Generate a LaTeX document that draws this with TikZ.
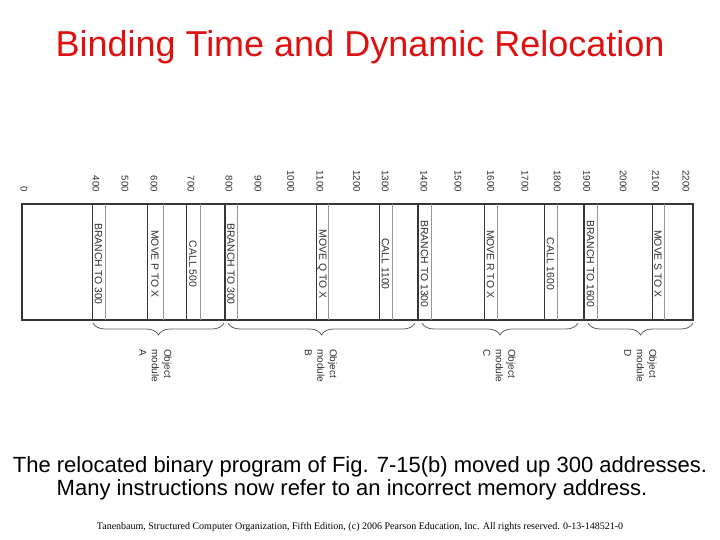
\documentclass[tikz,border=0pt]{standalone}
\usepackage{fontspec}
\setmainfont{Liberation Sans}
\newfontfamily\footfont{Liberation Serif}
\usetikzlibrary{decorations.pathreplacing}
\definecolor{titlered}{RGB}{222,16,16}
\definecolor{edgec}{RGB}{55,55,55}
\definecolor{lightc}{RGB}{150,150,150}
\definecolor{textc}{RGB}{45,45,45}
\begin{document}
\begin{tikzpicture}[x=1pt,y=-1pt,
  barbox/.style={draw=edgec, line width=1.3pt, inner sep=0pt, minimum width=671pt, minimum height=116pt},
  darkline/.style={draw=edgec, line width=1pt},
  lightline/.style={draw=lightc, line width=0.9pt},
  thickline/.style={draw=edgec, line width=2.2pt},
  addr/.style={rotate=-90, anchor=east, inner sep=0pt, text=textc, font=\fontsize{9.7}{11}\selectfont},
  instr/.style={rotate=-90, inner sep=0pt, text=textc, font=\fontsize{10.4}{12}\selectfont},
  modlbl/.style={rotate=-90, anchor=west, inner sep=0pt, align=left, text=textc, font=\fontsize{10}{12.5}\selectfont},
  brc/.style={draw=edgec!80, line width=0.8pt, decorate, decoration={brace, mirror, amplitude=12pt}},
  captxt/.style={anchor=base, inner sep=0pt, font=\fontsize{22}{24}\selectfont},
]
\useasboundingbox (0,0) rectangle (720,540);

% title
\node[anchor=base, inner sep=0pt, text=titlered, font=\fontsize{36}{40}\selectfont] (title) at (360,57) {Binding Time and Dynamic Relocation};

% memory bar
\node[barbox] (bar) at (357.5,262) {};

% instruction cells
\foreach \l/\r/\t/\n in {92/105/BRANCH TO 300/i1, 147/163/MOVE P TO X/i2, 186/200/CALL 500/i3, 225/237/BRANCH TO 300/i4, 316/328/MOVE Q TO X/i5, 379/392/CALL 1100/i6, 418/431/BRANCH TO 1300/i7, 484/497/MOVE R TO X/i8, 544/557/CALL 1600/i9, 584/597/BRANCH TO 1600/i10, 652/664/MOVE S TO X/i11} {
  \draw[darkline] (\l,204) -- (\l,320);
  \draw[lightline] (\r,204) -- (\r,320);
  \node[instr] (\n) at ({(\l+\r)/2},264) {\t};
}
\foreach \x in {225,418,584} {
  \draw[thickline] (\x,204) -- (\x,320);
}
\draw[darkline] (22,320) -- (92,320);

% address labels
\foreach \x/\t [count=\i] in {24/0, 96/400, 125/500, 154/600, 191/700, 229/800, 258/900, 290.7/1000, 320/1100, 356.7/1200, 385.3/1300, 424/1400, 458/1500, 490.7/1600, 525/1700, 557.3/1800, 586.7/1900, 623.3/2000, 655.7/2100, 686/2200} {
  \node[addr] (a\i) at (\x,192) {\t};
}

% braces
\coordinate (bA1) at (93,323);  \coordinate (bA2) at (224,323);
\coordinate (bB1) at (228,323); \coordinate (bB2) at (415,323);
\coordinate (bC1) at (422,323); \coordinate (bC2) at (578,323);
\coordinate (bD1) at (588,323); \coordinate (bD2) at (693,323);
\draw[brc] (bA1) -- (bA2);
\draw[brc] (bB1) -- (bB2);
\draw[brc] (bC1) -- (bC2);
\draw[brc] (bD1) -- (bD2);

\node[modlbl] (mA) at (155.5,349) {Object\\module\\A};
\node[modlbl] (mB) at (321,349) {Object\\module\\B};
\node[modlbl] (mC) at (499.5,349) {Object\\module\\C};
\node[modlbl] (mD) at (640.5,349) {Object\\module\\D};

% caption
\node[captxt] (cap1) at (360,472) {The relocated binary program of Fig. 7-15(b) moved up 300 addresses.};
\node[captxt] (cap2) at (352,495.5) {Many instructions now refer to an incorrect memory address.};

% footer
\node[anchor=base, inner sep=0pt, font=\footfont\fontsize{10}{11}\selectfont] (foot) at (360,529) {Tanenbaum, Structured Computer Organization, Fifth Edition, (c) 2006 Pearson Education, Inc. All rights reserved. 0-13-148521-0};
\end{tikzpicture}
\end{document}
